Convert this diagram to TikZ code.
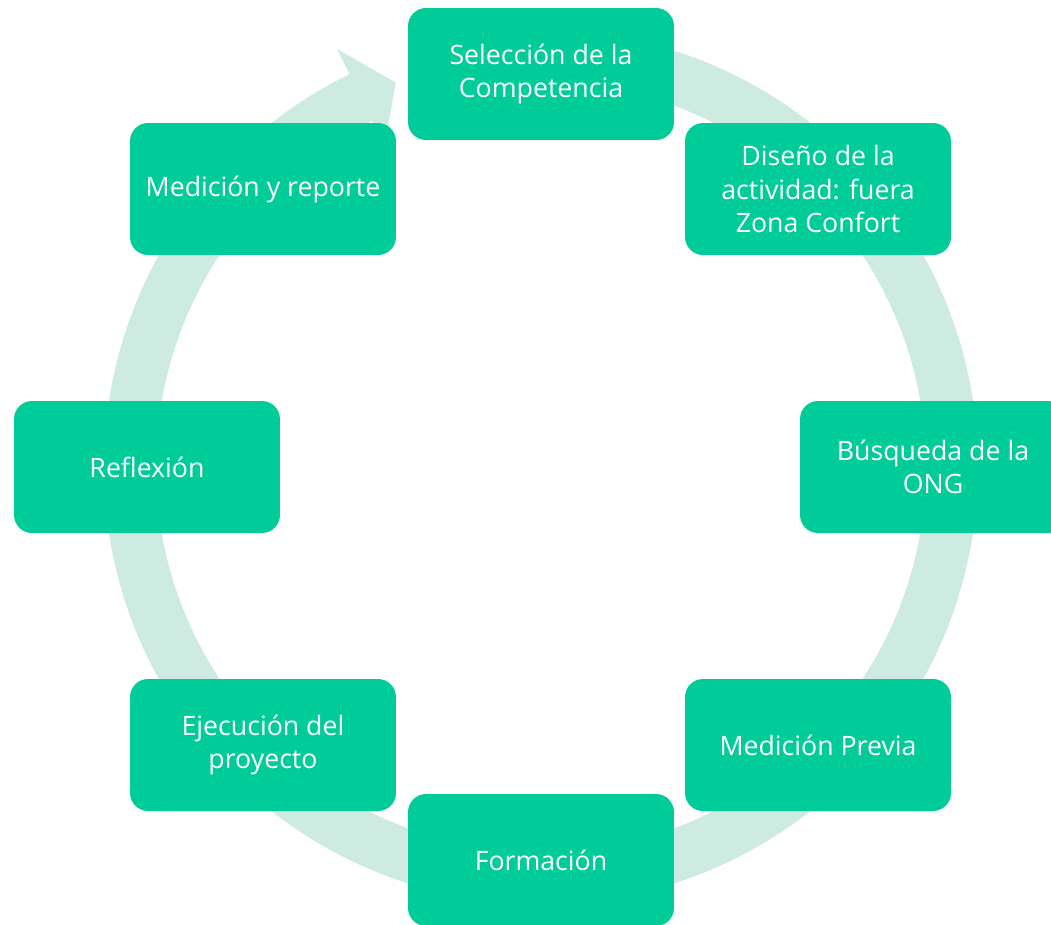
\documentclass[tikz,border=0pt]{standalone}
\usepackage{fontspec}
\setmainfont{Open Sans}
\definecolor{boxgreen}{RGB}{0,204,153}
\definecolor{ringgreen}{RGB}{205,235,224}

\begin{document}
\begin{tikzpicture}[x=0.02cm,y=0.02cm,
    stepbox/.style={fill=boxgreen,rounded corners=0.36cm,minimum width=5.32cm,minimum height=2.64cm,
      inner sep=0pt,text=white,align=center,font=\fontsize{15.2}{18.9}\selectfont}]
  \clip (0,0) rectangle (1051,-924);
  % ring with arrow head
  \begin{scope}[shift={(541,-467)}]
    \fill [ringgreen] (85:437) arc[start angle=85,end angle=-244,radius=437] -- (-244:465) -- (-249.3:411)
      -- (-244:357) -- (-244:385) arc[start angle=-244,end angle=85,radius=385] -- cycle;
  \end{scope}
  % steps
  \node [stepbox] (seleccion) at (541,-74) {Selección de la\\Competencia};
  \node [stepbox] (diseno) at (818,-189) {Diseño de la\\actividad: fuera\\Zona Confort};
  \node [stepbox] (busqueda) at (933,-467) {Búsqueda de la\\ONG};
  \node [stepbox] (previa) at (818,-745) {Medición Previa};
  \node [stepbox] (formacion) at (541,-860) {Formación};
  \node [stepbox] (ejecucion) at (263,-745) {Ejecución del\\proyecto};
  \node [stepbox] (reflexion) at (147,-467) {Reflexión};
  \node [stepbox] (reporte) at (263,-189) {Medición y reporte};
\end{tikzpicture}
\end{document}
